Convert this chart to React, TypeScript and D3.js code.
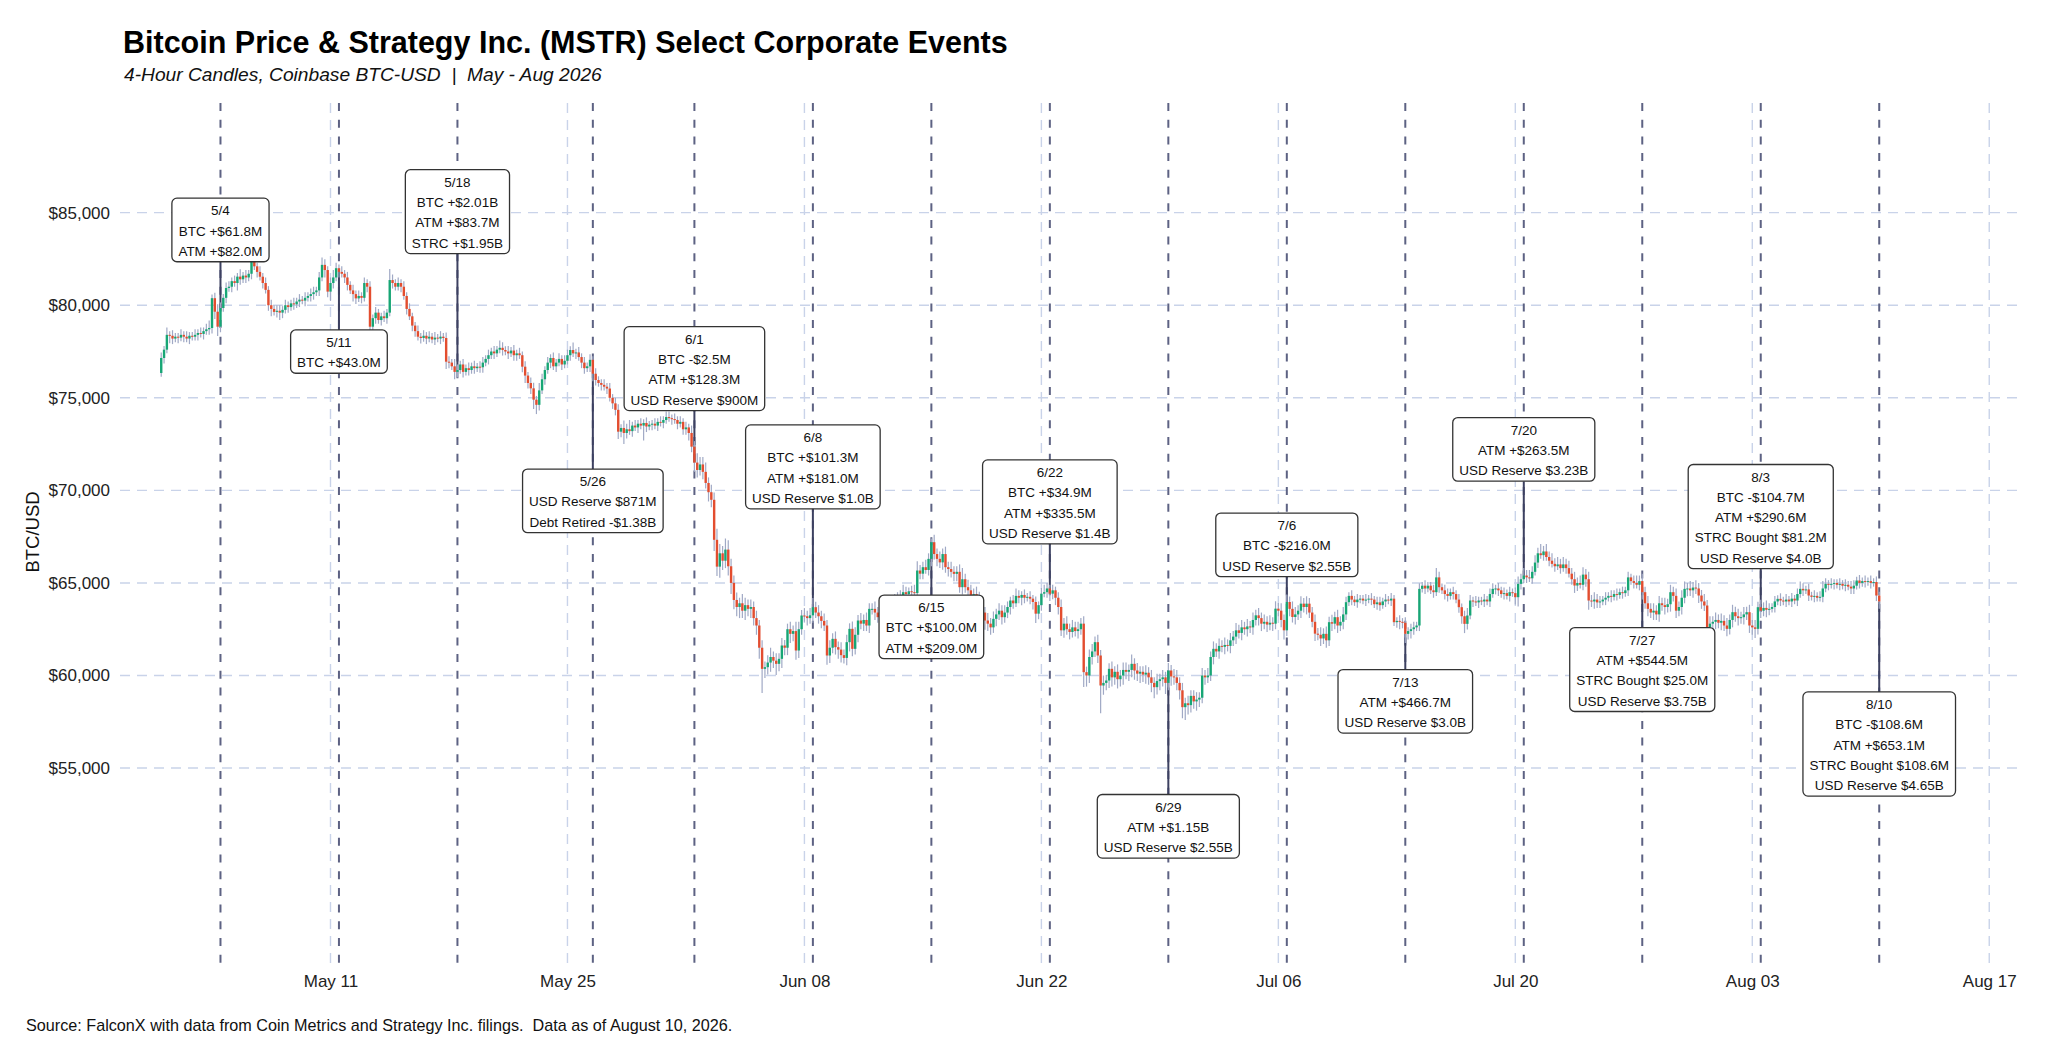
import React, { useEffect, useRef } from 'react';
import * as d3 from 'd3';

// 4-hour closes (USD), one row per day, starting 2026-05-01 00:00 UTC
const mayClose = [
  77150, 77600, 78400, 78350, 78200, 78300,
  78250, 78400, 78300, 78200, 78350, 78300,
  78400, 78500, 78450, 78600, 78700, 78770,
  80380, 79650, 78840, 79850, 80400, 80930,
  81000, 81300, 81200, 81545, 81400, 81600,
  81500, 81700, 82350, 82100, 81800, 81540,
  81200, 80830, 80000, 79800, 79640, 79700,
  79600, 79750, 80000, 79900, 80100, 80050,
  80200, 80300, 80250, 80400, 80500, 80600,
  80700, 80800, 81500, 82180, 81900, 80735,
  81200, 81500, 82000, 81800, 81700, 81500,
  81100, 80800, 80600, 80370, 80500, 80400,
  81200, 81000, 78840, 79300, 79600, 79200,
  79400, 79300, 79600, 81360, 81200, 81000,
  81200, 81000, 80500, 79800, 79400, 78900,
  78600, 78300, 78230, 78350, 78200, 78300,
  78150, 78250, 78200, 78300, 78230, 76950,
  76900, 76700, 76400, 76500, 76800, 76400,
  76600, 76500, 76700, 76600, 76680, 76650,
  76900, 77100, 77300, 77500, 77400, 77600,
  77700, 77580, 77500, 77400, 77550, 77300,
  77400, 77300, 76680, 76200, 75800, 75510,
  74900, 74620, 75400, 76000, 76500, 76900,
  77150, 76700, 76900, 77100, 76800, 77000,
  77300, 77580, 77400, 77450, 77200, 76900,
  76600, 76700, 77050, 76300, 75960, 75800,
  75700, 75600, 75500, 75000, 74700, 74350,
  73170, 73370, 73100, 73300, 73200, 73500,
  73400, 73600, 73500, 73640, 73450, 73550,
  73600, 73500, 73700, 73650, 73800, 73960,
  73900, 73850, 73800, 73600, 73700, 73300,
];
const junClose = [
  73400, 73100, 72360, 71500, 71100, 71400,
  71000, 70400, 69900, 69490, 67330, 65880,
  66600, 66200, 66800, 65900, 65000, 64080,
  63700, 63900, 63500, 63800, 63600, 63700,
  63100, 62700, 61500, 60360, 60450, 60700,
  61000, 60800, 60630, 60900, 61620, 61500,
  62500, 62250, 62400, 61350, 62500, 63240,
  63200, 63100, 63250, 63690, 63400, 63200,
  62950, 62700, 61080, 61500, 61980, 61530,
  61400, 61100, 60950, 61800, 62520, 61440,
  62200, 62970, 62800, 63000, 62700, 63600,
  63600, 63400, 63150, 63400, 63600, 63900,
  63800, 64100, 64000, 64300, 64250, 64500,
  64400, 64550, 64500, 64450, 65670, 65500,
  65850, 65700, 66300, 67200, 66560, 66300,
  66110, 66560, 65850, 65750, 65600, 65490,
  65600, 64770, 65200, 64770, 64600, 64320,
  64400, 64230, 63800, 63400, 62970, 62800,
  62600, 63060, 63300, 63500, 63150, 63400,
  63700, 64050, 63900, 64300, 64200, 64350,
  64200, 64250, 64150, 63970, 63340, 63800,
  64420, 64500, 64700, 64420, 64600, 64200,
  63700, 62440, 62800, 62500, 62350, 62600,
  62400, 62500, 62800, 60180, 60000, 61000,
  61300, 61800, 61080, 59460, 59600, 59730,
  60360, 59900, 60200, 59800, 60000, 60300,
  60200, 60300, 60630, 60270, 60100, 60200,
  60050, 60150, 59900, 59600, 59370, 59700,
  59800, 59900, 59600, 60270, 59950, 59900,
  59600, 59200, 58290, 58500, 58400, 58900,
];
const julClose = [
  58600, 58700, 58800, 60000, 59900, 60000,
  61000, 61440, 61300, 61600, 61550, 61650,
  61600, 61900, 62100, 62440, 62300, 62600,
  62500, 62650, 62600, 63000, 63250, 63100,
  62800, 62900, 62750, 62850, 62800, 63610,
  63500, 63000, 62440, 63970, 63600, 63160,
  63300, 63500, 63880, 63700, 63880, 63400,
  62900, 62260, 62200, 62000, 62250, 61900,
  62880, 62800, 63150, 62700, 62900, 63300,
  63960, 64300, 64100, 63960, 64100, 64150,
  64050, 64100, 64150, 64100, 63850, 63950,
  63800, 64000, 64100, 64050, 64150, 62880,
  62950, 62900, 62850, 62250, 62400, 62500,
  62600, 62700, 64680, 64850, 64700, 64850,
  64600, 64500, 65300, 64770, 64600, 64400,
  64300, 64500, 64400, 64100, 63690, 63200,
  62790, 63240, 64050, 64000, 63950, 64050,
  64000, 64100, 64000, 64400, 64680, 64700,
  64600, 64400, 64450, 64300, 64500, 64450,
  64230, 64950, 65200, 65400, 65300, 65250,
  65600, 66100, 66600, 66500, 66700, 66400,
  66200, 66030, 65900, 66000, 65800, 66000,
  65800, 65500, 65200, 64860, 65000, 64900,
  65450, 65200, 64050, 64000, 64100, 63950,
  64000, 64100, 64200, 64300, 64250, 64400,
  64350, 64500, 64450, 64600, 65300, 65100,
  65000, 64900, 65100, 64500, 63900, 63600,
  63400, 63500, 63300, 63900, 63800, 63700,
  63850, 64500, 64300, 63500, 63700, 64200,
  64680, 64700, 64600, 64750, 64700, 64320,
  64000, 63780, 62600, 62800, 62900, 63000,
];
const augClose = [
  62850, 62950, 62700, 62520, 63000, 63420,
  63200, 63100, 63150, 63300, 63420, 62700,
  62600, 62520, 63690, 63500, 63650, 63550,
  63600, 63700, 64000, 64140, 64050, 64000,
  64100, 64000, 64150, 64050, 64400, 64680,
  64600, 64650, 64320, 64250, 64300, 64200,
  64250, 64700, 64950, 64900, 64950, 65000,
  64900, 64950, 64850, 64900, 64800, 64700,
  64850, 65130, 65000, 65100, 65050, 65100,
  65000, 65050, 64320, 64000,
];
const firstOpen = 76340;

// wick lengths above / below the body, in hundreds of USD
const wickUp = [
  3,2,4,2,3,2, 2,3,2,3,2,2, 3,2,3,2,3,4, 2,3,4,3,2,3, 3,2,3,2,4,2, 3,2,5,3,2,3,
  2,3,2,3,2,3, 3,2,3,2,2,3, 2,3,2,3,2,3, 3,2,3,4,3,2, 3,4,3,2,3,2, 3,2,3,2,3,2,
  3,2,3,2,3,2, 2,3,2,6,3,2, 3,2,3,2,3,2, 2,3,2,3,2,3, 2,3,2,3,2,3, 3,2,4,3,2,3,
  2,3,2,3,2,3, 3,2,3,2,3,2, 4,3,2,3,2,3, 2,3,2,3,2,3, 3,2,4,3,2,3, 2,3,2,3,2,3,
  3,2,4,2,3,2, 3,2,3,2,3,2, 2,3,2,3,2,3, 3,2,4,3,5,2, 3,2,3,2,3,2, 2,3,2,3,2,3,
  3,2,3,2,3,2,
  3,2,4,3,5,4, 4,5,3,4,4,6, 5,4,6,5,4,4, 4,3,5,4,3,4, 3,4,3,4,3,4, 5,3,4,3,4,3,
  3,4,3,5,4,3, 4,3,4,5,3,4, 3,4,3,4,3,4, 3,4,3,4,3,4, 4,3,4,3,4,3, 3,4,3,4,3,4,
  3,2,3,2,3,4, 3,2,3,4,5,3, 3,4,3,2,4,3, 4,3,4,3,4,3, 3,4,6,3,4,3, 3,4,3,4,3,4,
  3,4,3,4,3,4, 3,2,3,4,3,2, 3,2,3,2,3,2, 3,4,3,2,3,2, 3,4,3,4,3,4, 3,4,3,4,3,4,
  4,3,4,3,4,3, 3,4,3,4,3,4, 4,3,5,3,4,3, 3,4,3,4,3,4, 3,4,3,4,3,4, 4,3,4,3,4,3,
  3,4,3,4,3,4, 3,4,3,4,3,4, 3,4,3,4,3,4, 3,4,3,4,3,4, 3,4,3,4,3,4, 3,4,3,4,3,4,
  4,3,4,3,4,3, 3,4,3,4,3,4, 3,4,3,4,3,4, 3,2,3,2,3,2, 2,3,2,3,2,3, 3,2,3,2,3,2,
  2,3,2,3,2,3, 3,2,3,2,3,2, 2,3,5,3,2,3, 3,2,3,2,3,2, 3,4,3,2,3,2, 2,3,2,3,3,2,
  3,2,3,2,3,2, 3,4,3,4,3,4, 3,4,3,5,3,4, 3,4,3,4,3,4, 3,4,3,4,3,4, 4,3,4,3,4,3,
  3,2,3,2,3,2, 3,2,3,2,3,2, 3,4,3,4,3,4, 3,4,3,4,3,4, 3,4,3,4,3,4, 4,3,4,3,4,3,
  3,4,3,4,3,4,
  3,4,3,4,3,4, 3,4,3,4,3,4, 3,4,3,4,3,4, 3,2,3,2,3,2, 3,2,3,2,3,4, 3,2,3,2,3,2,
  3,4,3,2,3,2, 2,3,2,3,2,3, 3,2,3,2,3,2, 3,2,3,2,
];
const wickDown = [
  2,3,2,4,3,2, 3,2,3,2,3,2, 2,3,2,3,2,3, 3,4,5,3,2,3, 2,3,2,4,3,2, 3,2,3,2,3,2,
  3,2,3,4,2,3, 4,3,2,3,2,3, 2,3,2,3,2,3, 3,2,3,2,4,3, 5,3,2,3,2,3, 3,2,4,3,2,3,
  2,3,3,2,3,2, 3,2,3,2,3,2, 2,3,2,3,2,3, 3,2,3,2,3,2, 2,3,2,3,2,4, 3,2,4,3,2,3,
  2,3,2,3,2,3, 3,2,3,2,3,2, 2,3,2,3,2,3, 3,2,3,4,3,3, 5,5,3,2,3,2, 3,2,3,2,3,2,
  2,3,2,3,2,3, 3,2,3,4,3,2, 3,2,3,2,3,3, 4,3,6,3,2,3, 2,3,2,8,3,2, 3,2,3,2,3,2,
  2,3,2,3,2,3,
  3,4,3,5,4,3, 4,3,5,4,6,5, 6,5,4,5,6,5, 5,6,4,5,4,5, 4,5,6,13,5,4, 5,4,6,4,5,4,
  4,5,4,5,4,3, 3,4,3,4,3,4, 4,3,5,4,3,4, 5,4,3,4,5,4, 3,4,3,4,3,4, 3,4,3,4,3,3,
  3,2,3,2,3,2, 3,2,3,2,3,3, 3,2,3,4,3,4, 3,4,3,4,3,4, 4,3,4,3,4,3, 3,4,3,4,5,4,
  4,3,4,3,4,3, 3,4,3,2,3,4, 3,2,3,4,5,3, 3,2,3,4,3,4, 4,3,4,3,4,3, 3,4,3,8,6,4,
  4,3,4,15,5,4, 4,5,4,5,4,5, 4,5,4,5,4,5, 4,5,4,5,6,4, 5,4,6,4,5,4, 4,5,6,7,5,4,
  4,5,4,3,4,3, 3,4,3,4,3,4, 3,4,3,4,3,4, 3,4,3,4,3,4, 4,3,4,3,4,3, 3,4,5,3,4,3,
  4,3,4,3,4,3, 3,4,3,4,3,4, 3,4,3,4,3,4, 3,2,3,2,3,2, 2,3,2,3,2,3, 3,2,3,2,3,2,
  3,4,3,5,3,4, 3,2,3,2,3,2, 2,3,2,3,2,3, 3,2,3,2,3,4, 5,3,2,3,2,3, 2,3,2,3,2,3,
  3,2,3,2,3,2, 4,5,3,2,3,2, 3,2,3,2,3,2, 3,2,3,2,3,2, 3,2,3,4,3,2, 3,4,5,3,4,3,
  3,2,3,2,3,2, 3,2,3,2,3,2, 3,2,3,4,3,4, 3,4,3,4,3,4, 3,4,3,4,3,4, 3,4,3,4,3,4,
  4,3,5,4,3,4,
  3,4,3,4,3,4, 3,4,3,4,3,4, 4,5,3,4,3,4, 3,2,3,2,3,2, 3,2,3,2,3,2, 3,2,3,2,3,2,
  2,3,2,3,2,3, 2,3,2,3,2,3, 3,2,3,2,3,2, 3,2,3,4,
];

// corporate events (weekly filings)
const eventDates = [
  '2026-05-04', '2026-05-11', '2026-05-18', '2026-05-26', '2026-06-01',
  '2026-06-08', '2026-06-15', '2026-06-22', '2026-06-29', '2026-07-06',
  '2026-07-13', '2026-07-20', '2026-07-27', '2026-08-03', '2026-08-10',
];
const eventHeads = ['5/4', '5/11', '5/18', '5/26', '6/1', '6/8', '6/15', '6/22', '6/29', '7/6', '7/13', '7/20', '7/27', '8/3', '8/10'];
const eventNotes = [
  ['BTC +$61.8M', 'ATM +$82.0M'],
  ['BTC +$43.0M'],
  ['BTC +$2.01B', 'ATM +$83.7M', 'STRC +$1.95B'],
  ['USD Reserve $871M', 'Debt Retired -$1.38B'],
  ['BTC -$2.5M', 'ATM +$128.3M', 'USD Reserve $900M'],
  ['BTC +$101.3M', 'ATM +$181.0M', 'USD Reserve $1.0B'],
  ['BTC +$100.0M', 'ATM +$209.0M'],
  ['BTC +$34.9M', 'ATM +$335.5M', 'USD Reserve $1.4B'],
  ['ATM +$1.15B', 'USD Reserve $2.55B'],
  ['BTC -$216.0M', 'USD Reserve $2.55B'],
  ['ATM +$466.7M', 'USD Reserve $3.0B'],
  ['ATM +$263.5M', 'USD Reserve $3.23B'],
  ['ATM +$544.5M', 'STRC Bought $25.0M', 'USD Reserve $3.75B'],
  ['BTC -$104.7M', 'ATM +$290.6M', 'STRC Bought $81.2M', 'USD Reserve $4.0B'],
  ['BTC -$108.6M', 'ATM +$653.1M', 'STRC Bought $108.6M', 'USD Reserve $4.65B'],
];
// price level at which each label box is centred
const labelPrice = [84066, 77494, 85054, 69432, 76576, 71268, 62628, 69378, 51855, 67056, 58605, 72213, 60322, 68584, 56299];

const yTicks = [55000, 60000, 65000, 70000, 75000, 80000, 85000];
const xTicks = ['2026-05-11', '2026-05-25', '2026-06-08', '2026-06-22', '2026-07-06', '2026-07-20', '2026-08-03', '2026-08-17'];

const W = 2048;
const H = 1052;
const FONT = '"Liberation Sans", Arial, Helvetica, sans-serif';
const HOUR = 3600e3;
const DAY = 24 * HOUR;

interface Candle { t: Date; o: number; h: number; l: number; c: number; }

const buildCandles = (): Candle[] => {
  const closes = [...mayClose, ...junClose, ...julClose, ...augClose];
  const t0 = Date.UTC(2026, 4, 1);
  return closes.map((c, i) => {
    const o = i === 0 ? firstOpen : closes[i - 1];
    return {
      t: new Date(t0 + i * 4 * HOUR),
      o,
      c,
      h: Math.max(o, c) + wickUp[i] * 100,
      l: Math.min(o, c) - wickDown[i] * 100,
    };
  });
};

const draw = (el: SVGSVGElement) => {
  const svg = d3.select(el);
  svg.selectAll('*').remove();
  const candles = buildCandles();

  const panel = { left: 120, right: 2022, top: 103, bottom: 965 };
  const may11 = Date.UTC(2026, 4, 11);
  const x = d3
    .scaleUtc()
    .domain([new Date(may11 - 12.436 * DAY), new Date(may11 + 99.935 * DAY)])
    .range([panel.left, panel.right]);
  const y = d3.scaleLinear().domain([44363, 90923]).range([panel.bottom, panel.top]);
  const utc = (s: string) => new Date(s + 'T00:00:00Z');

  svg.append('rect').attr('width', W).attr('height', H).attr('fill', '#fff');

  // grid
  const grid = svg.append('g').attr('stroke', '#c9d3e9').attr('stroke-width', 1.4).attr('stroke-dasharray', '10,7');
  grid
    .selectAll('line.h')
    .data(yTicks)
    .join('line')
    .attr('x1', panel.left)
    .attr('x2', panel.right)
    .attr('y1', (d) => y(d))
    .attr('y2', (d) => y(d));
  grid
    .selectAll('line.v')
    .data(xTicks)
    .join('line')
    .attr('x1', (d) => x(utc(d)))
    .attr('x2', (d) => x(utc(d)))
    .attr('y1', panel.top)
    .attr('y2', panel.bottom);

  const events = eventDates.map((d, i) => {
    const t = new Date(utc(d).getTime() + 12 * HOUR);
    const hit = candles.find((c) => c.t.getTime() === t.getTime()) || candles[candles.length - 1];
    return { t, head: eventHeads[i], notes: eventNotes[i], labelY: labelPrice[i], price: hit.c };
  });

  // event lines
  svg
    .append('g')
    .selectAll('line')
    .data(events)
    .join('line')
    .attr('x1', (d) => x(d.t))
    .attr('x2', (d) => x(d.t))
    .attr('y1', panel.top)
    .attr('y2', panel.bottom)
    .attr('stroke', '#5d6283')
    .attr('stroke-width', 2)
    .attr('stroke-dasharray', '8,8.7');

  const lineH = 20.3;
  const boxH = (n: number) => (n - 1) * lineH + 23;

  // solid leader from price to label
  svg
    .append('g')
    .selectAll('line')
    .data(events)
    .join('line')
    .attr('x1', (d) => x(d.t))
    .attr('x2', (d) => x(d.t))
    .attr('y1', (d) => y(d.price))
    .attr('y2', (d) => {
      const h = boxH(d.notes.length + 1);
      const cy = y(d.labelY);
      return cy < y(d.price) ? cy + h / 2 : cy - h / 2;
    })
    .attr('stroke', '#3d4161')
    .attr('stroke-width', 2);

  // candles
  const bw = 2.4;
  const cg = svg.append('g');
  cg.selectAll('line')
    .data(candles)
    .join('line')
    .attr('x1', (d) => x(d.t))
    .attr('x2', (d) => x(d.t))
    .attr('y1', (d) => y(d.h))
    .attr('y2', (d) => y(d.l))
    .attr('stroke', '#a0a9c5')
    .attr('stroke-width', 1.2);
  cg.selectAll('rect')
    .data(candles)
    .join('rect')
    .attr('x', (d) => x(d.t) - bw / 2)
    .attr('width', bw)
    .attr('y', (d) => y(Math.max(d.o, d.c)))
    .attr('height', (d) => Math.max(1, Math.abs(y(d.o) - y(d.c))))
    .attr('fill', (d) => (d.c >= d.o ? '#17a675' : '#e34d2f'));

  // label boxes
  const lg = svg.append('g').attr('font-family', FONT).attr('font-size', 13.5).attr('fill', '#111');
  events.forEach((e) => {
    const lines = [e.head, ...e.notes];
    const h = boxH(lines.length);
    const cx = x(e.t);
    const top = y(e.labelY) - h / 2;
    const g = lg.append('g');
    const rect = g.append('rect');
    let maxW = 0;
    lines.forEach((s, i) => {
      const t = g
        .append('text')
        .attr('x', cx)
        .attr('y', top + 12.3 + i * lineH + 4.8)
        .attr('text-anchor', 'middle')
        .text(s);
      maxW = Math.max(maxW, (t.node() as SVGTextElement).getComputedTextLength());
    });
    const bwid = maxW + 13;
    rect
      .attr('x', cx - bwid / 2)
      .attr('y', top)
      .attr('width', bwid)
      .attr('height', h)
      .attr('rx', 5)
      .attr('fill', '#fff')
      .attr('stroke', '#333')
      .attr('stroke-width', 1.3);
  });

  // axes
  const yAxis = svg
    .append('g')
    .attr('transform', `translate(${panel.left},0)`)
    .call(
      d3
        .axisLeft(y)
        .tickValues(yTicks)
        .tickSize(0)
        .tickPadding(10)
        .tickFormat((d) => '$' + d3.format(',')(d as number)),
    );
  yAxis.select('.domain').remove();
  yAxis.selectAll('text').attr('font-family', FONT).attr('font-size', 17).attr('fill', '#222');

  const xAxis = svg
    .append('g')
    .attr('transform', `translate(0,${panel.bottom})`)
    .call(
      d3
        .axisBottom(x)
        .tickValues(xTicks.map(utc))
        .tickSize(0)
        .tickPadding(10)
        .tickFormat((d) => d3.utcFormat('%b %d')(d as Date)),
    );
  xAxis.select('.domain').remove();
  xAxis.selectAll('text').attr('font-family', FONT).attr('font-size', 17).attr('fill', '#222');

  svg
    .append('text')
    .attr('transform', 'translate(39,532) rotate(-90)')
    .attr('text-anchor', 'middle')
    .attr('font-family', FONT)
    .attr('font-size', 18.5)
    .attr('fill', '#111')
    .text('BTC/USD');

  // titles
  svg
    .append('text')
    .attr('x', 123)
    .attr('y', 53)
    .attr('font-family', FONT)
    .attr('font-size', 30.5)
    .attr('font-weight', 'bold')
    .attr('fill', '#000')
    .text('Bitcoin Price & Strategy Inc. (MSTR) Select Corporate Events');
  svg
    .append('text')
    .attr('x', 124)
    .attr('y', 81)
    .attr('font-family', FONT)
    .attr('font-size', 19.2)
    .attr('font-style', 'italic')
    .attr('fill', '#111')
    .style('white-space', 'pre')
    .text('4-Hour Candles, Coinbase BTC-USD  |  May - Aug 2026');
  svg
    .append('text')
    .attr('x', 26)
    .attr('y', 1031)
    .attr('font-family', FONT)
    .attr('font-size', 16.2)
    .attr('fill', '#111')
    .style('white-space', 'pre')
    .text('Source: FalconX with data from Coin Metrics and Strategy Inc. filings.  Data as of August 10, 2026.');
};

export default function App() {
  const ref = useRef<SVGSVGElement>(null);
  useEffect(() => {
    document.body.style.margin = '0';
    if (ref.current) draw(ref.current);
  }, []);
  return <svg ref={ref} width={W} height={H} style={{ display: 'block' }} />;
}
